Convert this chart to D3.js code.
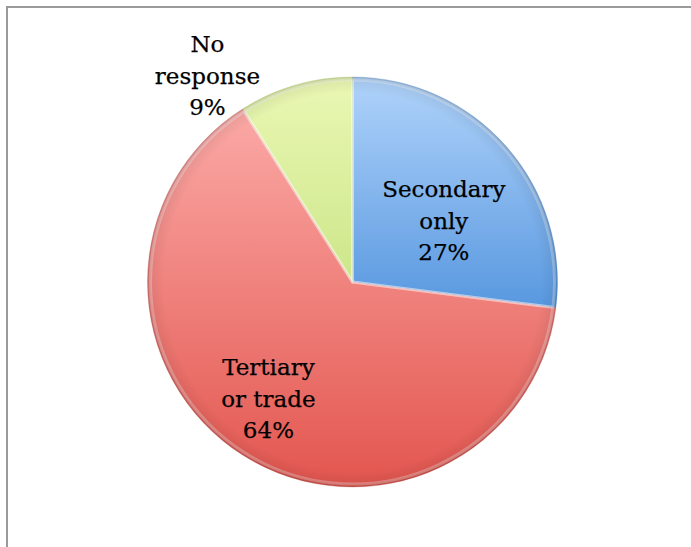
<!DOCTYPE html>
<html>
<head>
<meta charset="utf-8">
<script src="https://cdn.jsdelivr.net/npm/d3@7"></script>
<style>
  html, body { margin: 0; padding: 0; background: #fff; }
  svg { display: block; }
</style>
</head>
<body>
<svg id="chart" width="691" height="547"></svg>
<script>
// Highest education level of respondents
const categories = ["Secondary only", "Tertiary or trade", "No response"];
const labelLines = [["Secondary", "only"], ["Tertiary", "or trade"], ["No", "response"]];
const values = [27, 64, 9];
const percentLabels = ["27%", "64%", "9%"];

const svg = d3.select("#chart");
const W = 691, H = 547;
const cx = 352.5, cy = 282, R = 205;

// slice palettes: light (top) -> dark (bottom), spread over each slice
const palette = [
  { top: "#b0d3fa", bottom: "#5898e0", edge: "#3f7cc0" },
  { top: "#fba9a6", bottom: "#e3564f", edge: "#b8443f" },
  { top: "#eaf8b4", bottom: "#cde68a", edge: "#94b452" }
];

const defs = svg.append("defs");
palette.forEach((p, i) => {
  const gr = defs.append("linearGradient")
    .attr("id", "grad" + i)
    .attr("x1", 0).attr("y1", 0).attr("x2", 0).attr("y2", 1);
  gr.append("stop").attr("offset", "0%").attr("stop-color", p.top);
  gr.append("stop").attr("offset", "100%").attr("stop-color", p.bottom);
});
// soft bevel shading along the rim
const rim = defs.append("radialGradient")
  .attr("id", "rim")
  .attr("gradientUnits", "userSpaceOnUse")
  .attr("cx", 0).attr("cy", 0).attr("r", R);
rim.append("stop").attr("offset", "92%").attr("stop-color", "#000").attr("stop-opacity", 0);
rim.append("stop").attr("offset", "98%").attr("stop-color", "#000").attr("stop-opacity", 0.06);
rim.append("stop").attr("offset", "100%").attr("stop-color", "#000").attr("stop-opacity", 0.16);

// frame
svg.append("rect")
  .attr("x", 7).attr("y", 7)
  .attr("width", W + 20).attr("height", H + 20)
  .attr("fill", "none")
  .attr("stroke", "#9a9a9a")
  .attr("stroke-width", 2);

const pie = d3.pie().sort(null).value(d => d)(values);
const arc = d3.arc().innerRadius(0).outerRadius(R);

const g = svg.append("g").attr("transform", `translate(${cx},${cy})`);

g.selectAll("path.slice")
  .data(pie)
  .join("path")
  .attr("class", "slice")
  .attr("d", arc)
  .attr("fill", (d, i) => `url(#grad${i})`)
  .attr("stroke", (d, i) => palette[i].edge)
  .attr("stroke-opacity", 0.3)
  .attr("stroke-width", 0.8);

// inner highlight along slice edges
const inner = d3.arc().innerRadius(0).outerRadius(R - 3);
g.selectAll("path.hl")
  .data(pie)
  .join("path")
  .attr("class", "hl")
  .attr("d", inner)
  .attr("fill", "none")
  .attr("stroke", "#fff")
  .attr("stroke-opacity", 0.3)
  .attr("stroke-width", 3)
  .attr("stroke-linejoin", "round");

g.append("circle").attr("r", R).attr("fill", "url(#rim)");

// label anchors (angle in radians from 12 o'clock, distance from centre)
const labelAnchor = [
  { ang: 0.98, dist: 110 },
  { ang: 3.765, dist: 144 },
  { ang: 5.67, dist: 252 }
];
const lineH = 31.5;
const labels = g.selectAll("text.lbl")
  .data(pie)
  .join("text")
  .attr("class", "lbl")
  .attr("text-anchor", "middle")
  .attr("font-family", "'DejaVu Serif', serif")
  .attr("font-size", 23)
  .attr("fill", "#000")
  .attr("stroke", "#000")
  .attr("stroke-width", 0.25)
  .attr("transform", (d, i) => {
    const a = labelAnchor[i];
    const x = Math.sin(a.ang) * a.dist;
    const y = -Math.cos(a.ang) * a.dist;
    return `translate(${x},${y})`;
  });
labels.each(function (d, i) {
  const t = d3.select(this);
  const lines = labelLines[i].concat([percentLabels[i]]);
  lines.forEach((ln, k) => {
    t.append("tspan")
      .attr("x", 0)
      .attr("y", (k - 1) * lineH + 8)
      .text(ln);
  });
});
</script>
</body>
</html>
